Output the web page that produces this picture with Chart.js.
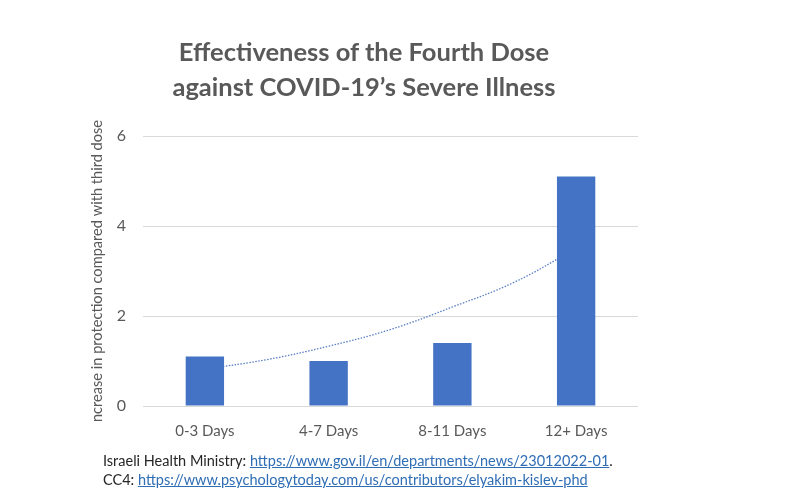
<!DOCTYPE html>
<html>
<head>
<meta charset="utf-8">
<script src="https://cdn.jsdelivr.net/npm/chart.js@4"></script>
<style>
    body { margin: 0; background: #ffffff; }
    .wrap { position: relative; width: 800px; height: 500px; overflow: hidden; }
    #chart { position: absolute; left: 0; top: 0; }
    .title { position: absolute; left: 64px; width: 600px; top: 34px; text-align: center; font-family: Lato, sans-serif; font-weight: bold; font-size: 25.5px; line-height: 35px; color: #595959; }
    .source { position: absolute; left: 103px; top: 451px; font-family: Lato, sans-serif; font-size: 14.5px; line-height: 19px; color: #262626; }
    .source a { color: #2f6db5; text-decoration: underline; }
</style>
</head>
<body>
<div class="wrap">
    <canvas id="chart" width="800" height="500"></canvas>
    <div class="title">Effectiveness of the Fourth Dose<br>against COVID-19’s Severe Illness</div>
    <div class="source">
        Israeli Health Ministry: <a href="https://www.gov.il/en/departments/news/23012022-01">https://www.gov.il/en/departments/news/23012022-01</a>.<br>
        CC4: <a href="https://www.psychologytoday.com/us/contributors/elyakim-kislev-phd">https://www.psychologytoday.com/us/contributors/elyakim-kislev-phd</a>
    </div>
</div>
<script>
const categories = ["0-3 Days", "4-7 Days", "8-11 Days", "12+ Days"];
const protection = [1.1, 1.0, 1.4, 5.1];
// dotted trend curve at half-category steps
const trendX = [0, 0.5, 1, 1.5, 2, 2.5, 3];
const trendY = [0.82, 1.03, 1.33, 1.7, 2.2, 2.75, 3.5];
const yTicks = [0, 2, 4, 6];

const ink = "#595959";

new Chart(document.getElementById("chart"), {
    type: "bar",
    data: {
        labels: categories,
        datasets: [
            {
                label: "Protection",
                data: protection,
                backgroundColor: "#4472c4",
                barPercentage: 0.31,
                categoryPercentage: 1,
                grouped: false,
                xAxisID: "x",
                order: 0
            },
            {
                type: "line",
                label: "Trend",
                data: trendX.map((x, i) => ({ x, y: trendY[i] })),
                xAxisID: "xTrend",
                borderColor: "#5a7fc6",
                borderWidth: 1.3,
                borderDash: [1.5, 1.5],
                pointRadius: 0,
                tension: 0.4,
                fill: false,
                order: 1
            }
        ]
    },
    options: {
        responsive: false,
        animation: false,
        layout: { padding: { left: 85, top: 136, right: 162, bottom: 44 } },
        plugins: {
            legend: { display: false },
            tooltip: { enabled: false }
        },
        scales: {
            x: {
                grid: { display: false },
                border: { display: false },
                ticks: { color: ink, font: { family: "Lato", size: 15 }, padding: 8 },
                afterFit: (scale) => { scale.height = 50; }
            },
            xTrend: {
                type: "linear",
                display: false,
                offset: false,
                min: -0.5,
                max: 3.5
            },
            y: {
                min: 0,
                max: 6,
                afterBuildTicks: (scale) => { scale.ticks = yTicks.map((v) => ({ value: v })); },
                grid: { color: "#d9d9d9", drawTicks: false },
                border: { display: false },
                ticks: { color: ink, font: { family: "Lato", size: 16 }, padding: 17 },
                title: {
                    display: true,
                    text: "ncrease in protection compared with third dose",
                    color: ink,
                    font: { family: "Lato", size: 14.6 },
                    padding: { top: 4, bottom: 0 }
                },
                afterFit: (scale) => { scale.width = 58; }
            }
        }
    }
});
</script>
</body>
</html>
